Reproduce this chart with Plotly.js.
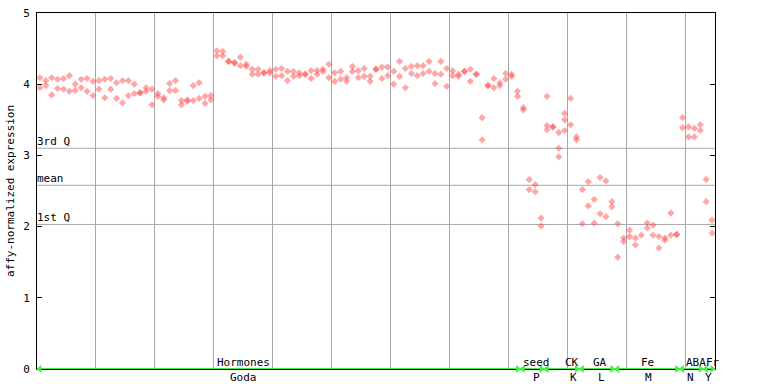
<!DOCTYPE html>
<html>
<head>
<meta charset="utf-8">
<script src="https://cdn.plot.ly/plotly-3.0.1.min.js"></script>
<style>html,body{margin:0;padding:0;background:#fff;}#chart{width:768px;height:384px;}</style>
</head>
<body>
<div id="chart"></div>
<script>
// replicate values per sample column (x = column index + 0.5)
const repHigh = [4.09,4.05,4.09,4.07,4.08,4.12,4.00,4.07,4.08,4.04,
 4.05,4.07,4.08,4.02,4.05,4.05,4.00,3.88,3.95,3.93,
 3.87,3.81,4.01,4.05,3.77,3.78,3.98,4.02,3.83,3.84,
 4.47,4.46,4.32,4.30,4.38,4.28,4.21,4.21,4.16,4.19,
 4.21,4.22,4.18,4.18,4.16,4.14,4.19,4.19,4.21,4.28,
 4.16,4.18,4.09,4.25,4.19,4.22,4.11,4.21,4.24,4.24,
 4.18,4.32,4.22,4.25,4.26,4.26,4.32,4.15,4.32,4.22,
 4.19,4.14,4.18,4.21,4.14,3.53,3.98,4.08,4.02,4.15,
 4.14,3.90,3.67,2.66,2.59,2.12,3.83,3.40,3.32,3.59,
 3.80,3.26,2.52,2.63,2.38,2.69,2.64,2.35,2.04,1.84,
 1.95,1.84,1.88,2.05,2.02,1.86,1.84,2.19,1.89,3.53,
 3.40,3.38,3.43,2.66,2.09];
const repLow = [3.95,3.98,3.85,3.94,3.93,3.90,3.91,3.95,3.90,3.84,
 3.93,3.81,3.93,3.80,3.74,3.84,3.87,3.88,3.90,3.71,
 3.83,3.78,3.91,3.91,3.71,3.76,3.77,3.80,3.73,3.78,
 4.40,4.40,4.32,4.30,4.26,4.25,4.14,4.14,4.16,4.16,
 4.11,4.12,4.05,4.11,4.12,4.14,4.08,4.14,4.18,4.09,
 4.04,4.07,4.04,4.18,4.09,4.11,4.04,4.21,4.08,4.12,
 4.00,4.11,3.95,4.15,4.12,4.15,4.18,4.01,4.14,3.97,
 4.12,4.11,4.18,4.04,4.14,3.22,3.98,3.95,3.98,4.07,
 4.11,3.83,3.64,2.52,2.49,2.01,3.42,3.40,3.10,3.50,
 3.43,3.22,2.04,2.29,2.05,2.18,2.14,2.28,1.57,1.79,
 1.86,1.74,null,1.98,1.88,1.70,1.81,1.88,1.89,3.39,
 3.26,3.26,3.35,2.35,1.91];
const repExtraCols = [86, 88, 89];
const repExtraVals = [3.36, 2.98, 3.35];

// reference lines
const quartileVals = [3.10, 2.58, 2.03];
const quartileLabels = ['3rd Q', 'mean', '1st Q'];

// experiment groups along the x axis
const groupStart = [0, 82, 86, 92, 98, 109, 113];
const groupEnd   = [82, 86, 92, 98, 109, 113, 115];
const groupTop   = ['Hormones', 'seed', 'CK', 'GA', 'Fe', 'ABA', 'Fr'];
const groupTopX  = [35.1, 84.7, 90.7, 95.5, 103.6, 111.8, 114.6];
const groupBot   = ['Goda', 'P', 'K', 'L', 'M', 'N', 'Y'];
const groupBotX  = [35.1, 84.7, 91.0, 95.8, 103.7, 110.9, 113.9];

const xs = repHigh.map((_, i) => i + 0.5);
const mk = {symbol: 'diamond', size: 5.5, color: 'rgba(255,80,80,0.5)', line: {width: 0}};
const traces = [
  {x: xs, y: repHigh, type: 'scatter', mode: 'markers', marker: mk, hoverinfo: 'skip'},
  {x: xs, y: repLow, type: 'scatter', mode: 'markers', marker: mk, hoverinfo: 'skip'},
  {x: repExtraCols.map(c => c + 0.5), y: repExtraVals, type: 'scatter', mode: 'markers', marker: mk, hoverinfo: 'skip'}
];

const green = '#44ee44';
const inset = 0.45;
groupStart.forEach((s, i) => {
  const a = s + inset, b = groupEnd[i] - inset;
  traces.push({x: [a, b], y: [0, 0], type: 'scatter', mode: 'lines+markers', cliponaxis: false,
    line: {color: green, width: 2},
    marker: {symbol: ['triangle-left', 'triangle-right'], size: 7, color: green},
    hoverinfo: 'skip'});
});

const shapes = quartileVals.map(q => ({type: 'line', xref: 'paper', yref: 'y', x0: 0, x1: 1, y0: q, y1: q,
  line: {color: '#a8a8a8', width: 1}, layer: 'below'}));

const annotations = [];
quartileVals.forEach((q, i) => annotations.push({xref: 'paper', yref: 'y', x: 0, y: q, xanchor: 'left', yanchor: 'bottom',
  xshift: -2, yshift: -2, text: quartileLabels[i], showarrow: false, font: {size: 11}}));
groupTop.forEach((t, i) => annotations.push({xref: 'x', yref: 'y', x: groupTopX[i], y: 0, xanchor: 'center', yanchor: 'middle',
  yshift: 7, text: t, showarrow: false, font: {size: 11}}));
groupBot.forEach((t, i) => annotations.push({xref: 'x', yref: 'y', x: groupBotX[i], y: 0, xanchor: 'center', yanchor: 'middle',
  yshift: -8, text: t, showarrow: false, font: {size: 11}}));

const layout = {
  width: 768, height: 384,
  margin: {l: 37, r: 53, t: 13, b: 15, pad: 0},
  paper_bgcolor: '#ffffff', plot_bgcolor: '#ffffff',
  showlegend: false,
  font: {family: 'DejaVu Sans Mono, monospace', size: 11, color: '#000'},
  xaxis: {range: [0, 115], tick0: 0, dtick: 10, showgrid: true, gridcolor: '#a8a8a8', gridwidth: 1,
    showticklabels: false, ticks: '', zeroline: false, showline: true, linecolor: '#000', linewidth: 1, mirror: true,
    layer: 'below traces'},
  yaxis: {range: [0, 5], tick0: 0, dtick: 1, showgrid: false, zeroline: false, showline: true, linecolor: '#000',
    linewidth: 1, mirror: 'ticks', ticks: 'inside', ticklen: 5, tickcolor: '#000', ticklabelstandoff: 4,
    title: {text: 'affy-normalized expression', standoff: 6, font: {size: 11}}},
  shapes: shapes,
  annotations: annotations
};

Plotly.newPlot('chart', traces, layout, {staticPlot: true, displayModeBar: false});
</script>
</body>
</html>
